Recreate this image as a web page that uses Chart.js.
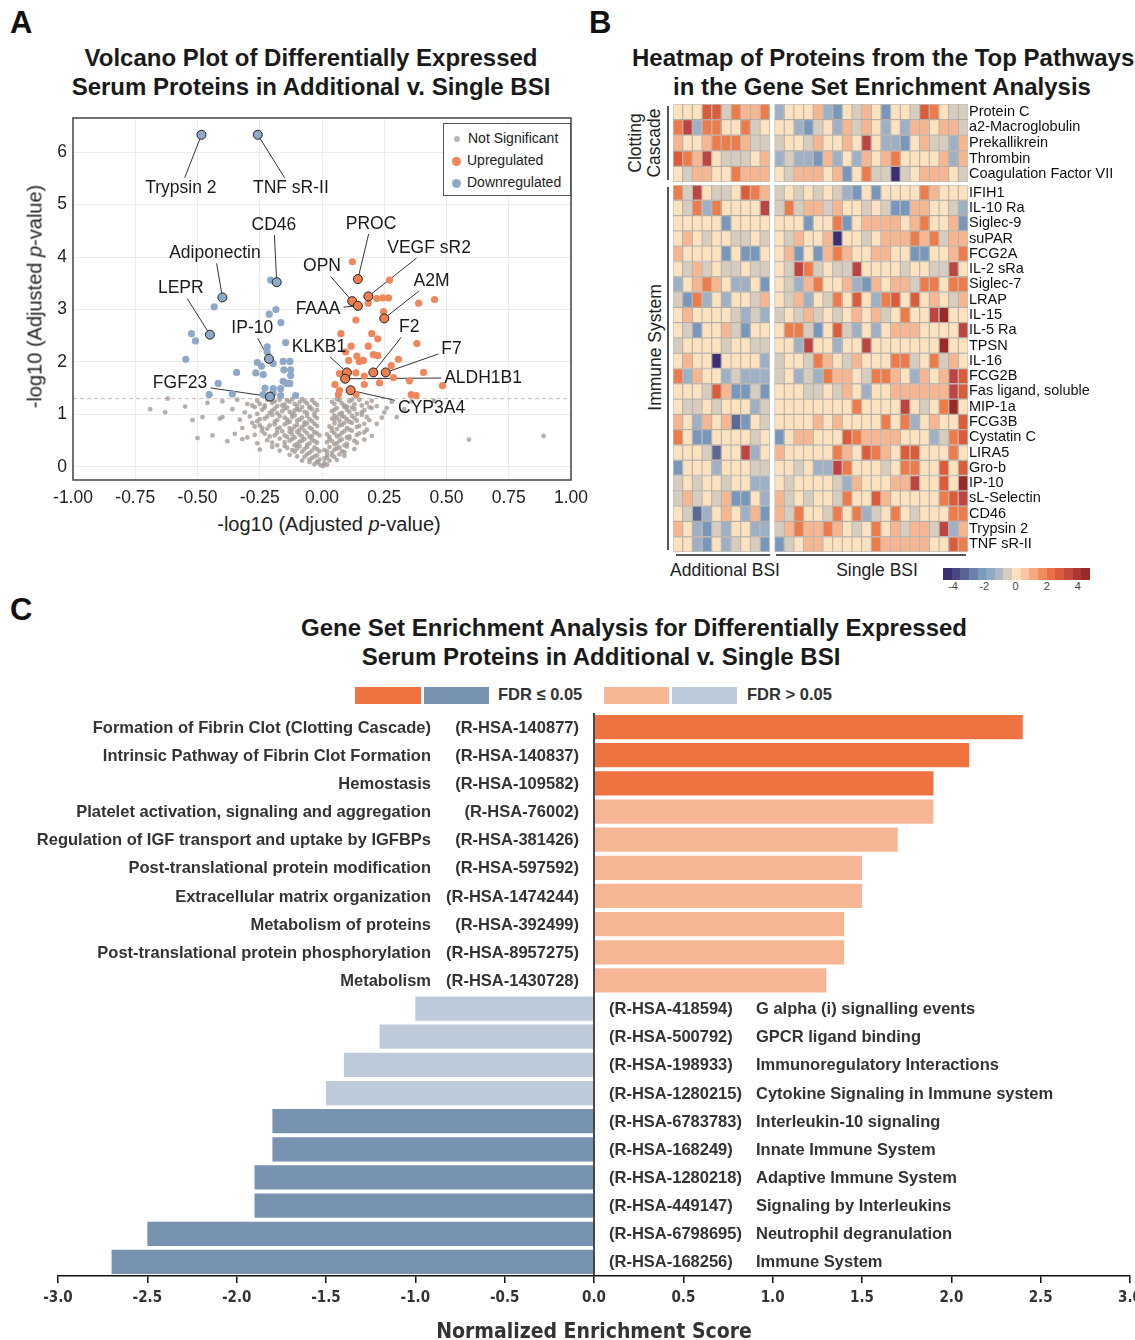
<!DOCTYPE html>
<html>
<head>
<meta charset="utf-8">
<script src="https://cdn.jsdelivr.net/npm/chart.js@4.4.1/dist/chart.umd.min.js"></script>
<style>
  body { margin: 0; background: #fff; font-family: 'Liberation Sans', Arial, sans-serif; color: #111; }
  #page { position: relative; width: 1135px; height: 1340px; overflow: hidden; }
  .abs { position: absolute; }
  canvas { position: absolute; }
  .letter { font-weight: bold; font-size: 31px; }
  .title { font-weight: bold; font-size: 24px; line-height: 29px; text-align: center; color: #1a1a1a; white-space: nowrap; }
  .lgA { font-size: 14px; color: #222; line-height: 22px; }
  .lgA span.dot { display: inline-block; border-radius: 50%; vertical-align: middle; margin-right: 6px; }
  .hmlab { font-size: 17.5px; color: #222; white-space: nowrap; }
  .lgC { font-weight: bold; font-size: 16.5px; color: #333; }
</style>
</head>
<body>
<div id="page">
  <div class="abs letter" style="left:10px;top:5px;">A</div>
  <div class="abs letter" style="left:589px;top:5px;">B</div>
  <div class="abs letter" style="left:10px;top:592px;">C</div>

  <div class="abs title" style="left:11px;top:43px;width:600px;">Volcano Plot of Differentially Expressed<br>Serum Proteins in Additional v. Single BSI</div>
  <div class="abs title" style="left:632px;top:43px;width:500px;">Heatmap of Proteins from the Top Pathways<br>in the Gene Set Enrichment Analysis</div>
  <div class="abs title" style="left:301px;top:613px;width:600px;">Gene Set Enrichment Analysis for Differentially Expressed<br>Serum Proteins in Additional v. Single BSI</div>

  <!-- panel A -->
  <canvas id="volcano" width="590" height="410" style="left:0;top:100px;"></canvas>
  <div class="abs" style="left:129px;top:513px;width:400px;text-align:center;font-size:20px;color:#222;">-log10 (Adjusted <i>p</i>-value)</div>
  <div class="abs" style="left:-165px;top:285px;width:400px;text-align:center;font-size:20px;color:#222;transform:rotate(-90deg);">-log10 (Adjusted <i>p</i>-value)</div>
  <div class="abs lgA" style="left:443px;top:123px;width:128px;height:73px;border:1.5px solid #555;background:#fff;padding:3px 0 0 8px;box-sizing:border-box;">
    <div><span class="dot" style="width:6px;height:6px;background:#bdb5b1;margin-left:2px;margin-right:8px;"></span>Not Significant</div>
    <div><span class="dot" style="width:9px;height:9px;background:#f0875a;"></span>Upregulated</div>
    <div><span class="dot" style="width:9px;height:9px;background:#8ea8c8;"></span>Downregulated</div>
  </div>

  <!-- panel B -->
  <canvas id="heatTop" width="455" height="78" style="left:673px;top:104px;"></canvas>
  <canvas id="heatBottom" width="455" height="367" style="left:673px;top:185px;"></canvas>
  <div class="abs" style="left:667px;top:106px;width:1.5px;height:74px;background:#555;"></div>
  <div class="abs" style="left:667px;top:187px;width:1.5px;height:363px;background:#555;"></div>
  <div class="abs hmlab" style="left:595px;top:124px;width:100px;text-align:center;line-height:19px;transform:rotate(-90deg);">Clotting<br>Cascade</div>
  <div class="abs hmlab" style="left:555px;top:337px;width:200px;text-align:center;transform:rotate(-90deg);">Immune System</div>
  <div class="abs" style="left:676px;top:554px;width:94px;height:1.5px;background:#555;"></div>
  <div class="abs" style="left:776px;top:554px;width:190px;height:1.5px;background:#555;"></div>
  <div class="abs hmlab" style="left:655px;top:560px;width:140px;text-align:center;">Additional BSI</div>
  <div class="abs hmlab" style="left:807px;top:560px;width:140px;text-align:center;">Single BSI</div>
  <div class="abs" id="colorbar" style="left:943px;top:568px;width:147px;height:12px;display:flex;"></div>
  <div class="abs" id="colorticks" style="left:0;top:580px;font-size:11px;color:#444;"></div>

  <!-- panel C -->
  <div class="abs" style="left:355px;top:687px;width:66px;height:17px;background:#ee7340;"></div>
  <div class="abs" style="left:424px;top:687px;width:65px;height:17px;background:#7893b0;"></div>
  <div class="abs lgC" style="left:498px;top:685px;">FDR ≤ 0.05</div>
  <div class="abs" style="left:604px;top:687px;width:65px;height:17px;background:#f6b594;"></div>
  <div class="abs" style="left:672px;top:687px;width:65px;height:17px;background:#bccad9;"></div>
  <div class="abs lgC" style="left:747px;top:685px;">FDR &gt; 0.05</div>
  <canvas id="gsea" width="1135" height="644" style="left:0;top:705px;"></canvas>
</div>

<script>
// ---------------- panel A data ----------------
const volcanoXTicks = [-1, -0.75, -0.5, -0.25, 0, 0.25, 0.5, 0.75, 1];
const volcanoYTicks = [0, 1, 2, 3, 4, 5, 6];
const pThreshold = 1.301;

const notSigPoints = [
  [-0.02,1.18],[-0.04,1.27],[-0.06,1.21],[-0.08,1.29],[-0.1,1.16],[-0.13,1.24],[-0.15,1.19],[-0.17,1.28],[-0.2,1.22],
  [-0.23,1.17],[-0.26,1.26],[-0.3,1.2],[-0.34,1.28],[-0.05,1.15],[-0.09,1.23],[-0.12,1.29],[-0.18,1.16],
  [-0.02,1.08],[-0.03,1.02],[-0.05,1.12],[-0.07,1.05],[-0.1,1.1],[-0.12,1.01],[-0.14,1.13],[-0.16,1.06],[-0.19,1.11],
  [-0.21,1.03],[-0.24,1.09],[-0.27,1.14],[-0.31,1.04],[-0.36,1.1],[-0.08,1.14],[-0.11,1.07],
  [-0.02,0.93],[-0.04,0.87],[-0.06,0.97],[-0.09,0.9],[-0.11,0.98],[-0.13,0.86],[-0.15,0.94],[-0.18,0.89],[-0.2,0.99],
  [-0.23,0.92],[-0.26,0.87],[-0.29,0.96],[-0.33,0.9],[-0.4,0.95],[-0.07,0.85],
  [-0.02,0.78],[-0.04,0.72],[-0.06,0.83],[-0.08,0.76],[-0.1,0.8],[-0.12,0.71],[-0.14,0.84],[-0.17,0.75],[-0.19,0.81],
  [-0.22,0.73],[-0.25,0.79],[-0.28,0.84],[-0.32,0.74],[-0.09,0.71],
  [-0.01,0.6],[-0.03,0.66],[-0.05,0.57],[-0.07,0.69],[-0.09,0.62],[-0.11,0.56],[-0.13,0.67],[-0.15,0.6],[-0.18,0.65],
  [-0.21,0.58],[-0.24,0.68],[-0.27,0.61],[-0.3,0.56],[-0.35,0.63],
  [-0.02,0.46],[-0.04,0.52],[-0.06,0.42],[-0.08,0.5],[-0.1,0.44],[-0.12,0.53],[-0.15,0.47],[-0.18,0.41],[-0.22,0.51],
  [-0.26,0.45],[-0.32,0.53],[-0.38,0.49],
  [-0.01,0.3],[-0.03,0.37],[-0.05,0.27],[-0.07,0.34],[-0.09,0.39],[-0.11,0.29],[-0.14,0.36],[-0.17,0.31],[-0.2,0.38],[-0.25,0.33],
  [-0.01,0.14],[-0.02,0.22],[-0.04,0.17],[-0.06,0.24],[-0.08,0.12],[-0.1,0.2],[-0.13,0.23],
  [-0.005,0.03],[-0.015,0.08],[-0.03,0.05],[-0.05,0.09],
  [-0.03,1.22],[-0.07,1.25],[-0.11,1.2],[-0.14,1.27],[-0.16,1.17],[-0.19,1.25],[-0.22,1.28],[-0.25,1.2],[-0.28,1.17],
  [-0.04,1.1],[-0.06,1.03],[-0.09,1.08],[-0.13,1.05],[-0.15,1.11],[-0.18,1.02],[-0.2,1.07],[-0.23,1.13],[-0.26,1.01],
  [-0.03,0.97],[-0.05,0.91],[-0.08,0.94],[-0.1,0.88],[-0.12,0.95],[-0.14,0.9],[-0.17,0.97],[-0.19,0.86],[-0.22,0.96],[-0.25,0.91],
  [-0.03,0.82],[-0.05,0.75],[-0.07,0.8],[-0.11,0.77],[-0.13,0.74],[-0.15,0.81],[-0.18,0.72],[-0.21,0.79],[-0.24,0.74],[-0.27,0.77],
  [-0.02,0.64],[-0.04,0.59],[-0.06,0.64],[-0.08,0.58],[-0.1,0.67],[-0.12,0.62],[-0.14,0.57],[-0.16,0.68],[-0.19,0.6],[-0.23,0.63],
  [-0.03,0.49],[-0.05,0.45],[-0.07,0.53],[-0.09,0.48],[-0.11,0.41],[-0.13,0.5],[-0.17,0.54],[-0.2,0.46],
  [-0.02,0.34],[-0.04,0.31],[-0.06,0.38],[-0.08,0.29],[-0.1,0.35],[-0.12,0.32],[-0.15,0.4],
  [-0.03,0.2],[-0.05,0.14],[-0.07,0.19],[-0.02,0.1],
  [0.05,1.2],[0.07,1.27],[0.09,1.17],[0.11,1.25],[0.13,1.19],[0.15,1.28],[0.18,1.22],[0.22,1.16],[0.28,1.24],[0.06,1.29],[0.1,1.15],
  [0.04,1.06],[0.06,1.12],[0.08,1.03],[0.1,1.09],[0.12,1.13],[0.14,1.01],[0.17,1.08],[0.2,1.12],[0.25,1.04],[0.09,1.14],
  [0.04,0.92],[0.05,0.98],[0.07,0.88],[0.09,0.95],[0.11,0.86],[0.13,0.93],[0.16,0.99],[0.19,0.89],[0.24,0.94],[0.08,0.97],
  [0.03,0.77],[0.05,0.83],[0.06,0.72],[0.08,0.8],[0.1,0.74],[0.12,0.84],[0.15,0.78],[0.18,0.71],[0.22,0.82],
  [0.02,0.62],[0.04,0.68],[0.06,0.58],[0.08,0.65],[0.1,0.56],[0.12,0.69],[0.14,0.61],[0.17,0.66],[0.2,0.59],
  [0.02,0.47],[0.03,0.53],[0.05,0.43],[0.07,0.5],[0.09,0.41],[0.11,0.54],[0.14,0.46],[0.17,0.52],
  [0.01,0.32],[0.03,0.38],[0.04,0.27],[0.06,0.35],[0.08,0.3],[0.1,0.39],[0.13,0.34],
  [0.01,0.16],[0.02,0.23],[0.03,0.12],[0.05,0.19],[0.07,0.24],[0.09,0.21],
  [0.005,0.02],[0.01,0.07],[0.02,0.04],
  [0.04,1.24],[0.08,1.21],[0.12,1.28],[0.16,1.17],[0.2,1.26],
  [0.05,1.09],[0.07,1.01],[0.11,1.05],[0.13,1.1],[0.16,1.04],[0.19,1.14],
  [0.05,0.9],[0.06,0.94],[0.1,0.91],[0.12,0.97],[0.14,0.88],[0.18,0.95],
  [0.04,0.74],[0.07,0.79],[0.09,0.84],[0.11,0.71],[0.14,0.76],[0.17,0.82],
  [0.03,0.57],[0.05,0.64],[0.07,0.6],[0.09,0.68],[0.11,0.58],[0.15,0.64],
  [0.04,0.49],[0.06,0.45],[0.08,0.52],[0.1,0.44],[0.13,0.5],
  [0.02,0.3],[0.05,0.33],[0.07,0.37],[0.09,0.28],
  [0.02,0.18],[0.04,0.22],[0.06,0.13],
  [-0.69,1.1],[-0.63,1.04],[-0.52,0.89],[-0.48,0.95],[-0.41,0.92],[-0.62,1.3],[-0.46,1.22],[-0.55,1.15],[0.59,0.52],
  [0.89,0.59],[0.45,1.26],[0.33,1.1],[0.26,1.12],[0.3,0.95],[-0.44,0.6],[-0.5,0.55],[0.36,1.25],[-0.4,1.25]
];

const downPoints = [
  [-0.433,3.05],[-0.206,3.56],[-0.185,3.0],[-0.212,2.91],[-0.165,2.75],[-0.524,2.54],[-0.508,2.4],[-0.547,2.05],
  [-0.146,2.37],[-0.22,2.29],[-0.22,2.19],[-0.26,1.99],[-0.243,1.92],[-0.196,1.97],[-0.156,2.01],[-0.129,2.01],
  [-0.153,1.85],[-0.126,1.85],[-0.343,1.8],[-0.266,1.79],[-0.236,1.76],[-0.126,1.74],[-0.156,1.63],[-0.142,1.59],
  [-0.129,1.59],[-0.229,1.5],[-0.196,1.49],[-0.166,1.49],[-0.417,1.59],[-0.453,1.38],[-0.36,1.39],[-0.236,1.38],
  [-0.166,1.36],[-0.106,1.36],[-0.196,1.41]
];

const upPoints = [
  [0.122,3.91],[0.271,3.56],[0.22,3.21],[0.244,3.22],[0.267,3.22],[0.186,3.12],[0.388,3.12],[0.452,3.19],
  [0.247,2.96],[0.136,2.8],[0.076,2.54],[0.2,2.54],[0.224,2.44],[0.117,2.3],[0.186,2.3],[0.381,2.35],
  [0.206,2.14],[0.224,2.12],[0.095,2.19],[0.14,2.11],[0.15,2.01],[0.166,2.03],[0.107,2.03],[0.307,2.05],
  [0.278,1.93],[0.408,1.8],[0.07,1.78],[0.136,1.79],[0.17,1.73],[0.287,1.7],[0.052,1.57],[0.17,1.57],
  [0.231,1.6],[0.351,1.64],[0.484,1.55],[0.07,1.46],[0.137,1.38],[0.066,1.38],[0.358,1.38],[0.378,1.36]
];

const labeledNames = ['Trypsin 2','TNF sR-II','CD46','Adiponectin','LEPR','IP-10','FGF23',
  'PROC','VEGF sR2','OPN','FAAA','A2M','F2','F7','KLKB1','ALDH1B1','CYP3A4'];
const labeledX = [-0.484,-0.258,-0.182,-0.40,-0.45,-0.213,-0.209, 0.144,0.186,0.121,0.144,0.25,0.206,0.256,0.10,0.093,0.115];
const labeledY = [6.33,6.33,3.52,3.23,2.52,2.06,1.34, 3.58,3.25,3.16,3.07,2.83,1.80,1.80,1.80,1.68,1.46];
const labeledUp = [0,0,0,0,0,0,0, 1,1,1,1,1,1,1,1,1,1];
const labelTextX = [-0.567,-0.125,-0.193,-0.43,-0.567,-0.28,-0.57, 0.197,0.43,0.0,-0.016,0.44,0.35,0.52,-0.012,0.647,0.44];
const labelTextY = [5.32,5.32,4.61,4.07,3.40,2.64,1.59, 4.63,4.17,3.82,3.0,3.54,2.66,2.24,2.29,1.70,1.11];

// ---------------- panel B data ----------------
const clottingProteins = ['Protein C','a2-Macroglobulin','Prekallikrein','Thrombin','Coagulation Factor VII'];
const immuneProteins = ['IFIH1','IL-10 Ra','Siglec-9','suPAR','FCG2A','IL-2 sRa','Siglec-7','LRAP','IL-15','IL-5 Ra',
  'TPSN','IL-16','FCG2B','Fas ligand, soluble','MIP-1a','FCG3B','Cystatin C','LIRA5','Gro-b','IP-10','sL-Selectin',
  'CD46','Trypsin 2','TNF sR-II'];
const additionalCount = 10;   // first 10 columns: Additional BSI, next 20: Single BSI
const colorbarTicks = [-4, -2, 0, 2, 4];

const clottingZ = [
  [0,0,0,2.8,2.8,-0.5,2,0.9,0.9,2, -1.3,0,0,0,0.9,-1.3,-2.2,0,-0.5,0.9, 0,-2.2,0,0,-0.5,2.8,2,0,-0.5,-0.5],
  [2,3.5,-1.3,2,2,0,0,2,-0.5,0, 0,0,-1.3,-2.2,-0.5,0,-1.3,0.9,-0.5,0.9, 0,-1.3,0,-1.3,0.9,0.9,0,0.9,0.9,-0.5],
  [0.9,0,0,0.9,2,2,2,0.9,-0.5,-0.5, -0.5,0,0,-0.5,0.9,0,0,0.9,0,3.5, 0,-1.3,-1.3,-2.2,0,0.9,-0.5,-0.5,-1.3,0.9],
  [2.8,2,0.9,3.5,0,-0.5,-0.5,-0.5,0,0.9, -1.3,-0.5,-1.3,-1.3,-2.2,0.9,-1.3,0,-1.3,0.9, 0,0.9,2,0,0,0,0,0.9,-1.3,0.9],
  [0,-0.5,0.9,0.9,0,0,2,0.9,0.9,0.9, 0,-0.5,0.9,0.9,0.9,0,0.9,-2.2,0,2, -0.5,-0.5,-4.3,-0.5,0,0.9,0.9,0.9,0,-0.5]
];
const immuneZ = [
  [2,-0.5,3.5,0,-0.5,-0.5,0,2.8,2,0.9, -0.5,0,-0.5,0,-0.5,0,-0.5,-1.3,-2.2,0, -2.2,0,0,0,0,2,0.9,0,0,0],
  [0,-0.5,2,-1.3,2,0,0,0,0,3.5, -0.5,2,-0.5,0.9,0.9,-0.5,0.9,0,0,-0.5, 0,-0.5,-2.2,-2.2,0.9,0.9,0,0,-0.5,-1.3],
  [0,0,0,0,0,-2.2,0,0,0,0, 0,0,0,-2.2,0,0,2,-2.2,0,0.9, 0.9,0.9,0.9,0,0.9,2,0,0,0.9,-2.2],
  [0,0.9,0,-0.5,0,0,-0.5,-0.5,0,-0.5, 0,-0.5,0.9,0,0,0.9,-4.3,0,0,-0.5, 0,0.9,0.9,0.9,2,0.9,2,-0.5,0.9,0.9],
  [0.9,0,0,0,0,-2.2,0,-2.2,-2.2,0, 0,0.9,-2.2,0,-2.2,0.9,2,0.9,0,0, 0.9,0.9,0,0,-2.2,-2.2,0,0,0.9,2],
  [0,-0.5,0.9,-0.5,0,-0.5,-0.5,0,-0.5,-0.5, 0,-0.5,3.5,2,-0.5,0,-0.5,-0.5,3.5,0, 0,0,0,-0.5,0,0,-0.5,-0.5,3.5,0],
  [-1.3,0,0.9,2,0.9,0,-1.3,-1.3,0,-2.2, 0,-0.5,-1.3,0.9,2,0,0,0.9,-1.3,-2.2, 0.9,0,0.9,0.9,-0.5,2,2,0,2,2],
  [-0.5,-2.2,2,-1.3,0,-1.3,0,0,-0.5,0.9, 0,-0.5,0.9,-1.3,0,-0.5,2,0,2.8,0, -1.3,2,2.8,0,2.8,0,0.9,0,-0.5,0.9],
  [0,0.9,0,0,0,0,-0.5,-1.3,-0.5,-1.3, -0.5,0,-0.5,0.9,-0.5,0,-0.5,0,0.9,0, 0.9,-0.5,0,2,0,0,3.5,4.4,0,0],
  [0,-0.5,-2.2,0,0,0.9,-0.5,-2.2,0,0, 0,2,2,-0.5,-2.2,0,2.8,-0.5,-1.3,0, -1.3,0,0.9,0.9,0.9,0,0,0,0,3.5],
  [-0.5,0,0,0,0,-0.5,0,0,-0.5,-0.5, 0,0,-1.3,3.5,0,0,-1.3,0,0,3.5, 0,0,0,0,0,0,0,4.4,0,0],
  [0,0.9,0,0,-4.3,0,0,0,0,-1.3, -0.5,0,0,-0.5,2,0.9,0,-0.5,0.9,0, 0,0,2,2,-0.5,0,2,-0.5,0.9,0],
  [2,-1.3,0.9,0,0,-1.3,-0.5,-1.3,-1.3,-1.3, -0.5,0,-1.3,-0.5,-1.3,2,0.9,0.9,0,-0.5, 2,2,0.9,0,-1.3,0.9,0,0.9,3.5,2.8],
  [0,0,0,-0.5,2.8,0.9,-2.2,-2.2,-0.5,-2.2, 0,0,0,-0.5,-0.5,0,-0.5,0.9,0,-1.3, 0,0,0.9,0.9,0.9,0.9,0.9,0.9,3.5,2.8],
  [0,-0.5,-0.5,0,-0.5,0,0,0,-1.3,-0.5, 0,0,0,0,0,0,0,0,2,0, 0,0,0,3.5,0,-0.5,0,2,4.4,0],
  [0.9,0,-1.3,0.9,0,0.9,-3.2,-2.2,0,-0.5, 0,0,0,0,0.9,0,0.9,0,0,0, 0,2,0,2,-1.3,0,0.9,0,0,2.8],
  [2,0,-2.2,-2.2,0,0,0,0,-0.5,0, -2.2,0,0.9,0.9,0,0,0,2.8,2,0.9, 0.9,0.9,0.9,0,0,0,-1.3,-0.5,2,2.8],
  [0,0,0,-0.5,-3.2,0,0,3.5,-1.3,0, 0.9,0,0,0,0,0,2,0.9,0,2.8, 2,0.9,0,2.8,2.8,0,0,0,2,0],
  [-2.2,0,0,0,-1.3,0,0,0,-0.5,-0.5, 0,0,-0.5,0,-1.3,-1.3,3.5,2,0,0, 0,-0.5,0,2,2,0,0,2.8,0,2.8],
  [-0.5,0,-0.5,0,0,-0.5,0,0,-1.3,-1.3, 0,-0.5,0,0,0,0,-0.5,-1.3,0.9,0, 0,0,0.9,0.9,3.5,0,0,2.8,0,4.4],
  [-0.5,0.9,-0.5,0,-0.5,0.9,-2.2,-2.2,0,-1.3, 0.9,-0.5,0,-0.5,0,0,-0.5,2,0,0, 2.8,0.9,0,0,0,0,0,2,2.8,3.5],
  [0,-0.5,-3.2,-1.3,0,0.9,0,-1.3,0.9,-2.2, 0.9,-0.5,2,0,0,-0.5,2,0,2,-1.3, -0.5,0,2,0,-0.5,0,0,0,2,2],
  [0.9,0,-1.3,-2.2,-0.5,-1.3,0,0,-1.3,-1.3, -0.5,0.9,2,0.9,0.9,2,0.9,0,-0.5,0, 2,0,0.9,-0.5,0.9,0.9,-0.5,3.5,-1.3,0.9],
  [0,0,-1.3,-2.2,0,-1.3,-0.5,0,-0.5,-2.2, -2.2,-0.5,0,0.9,0.9,0,0,0,0,0, 2,0.9,0.9,0.9,0.9,0.9,0,0,2.8,2]
];

// ---------------- panel C data ----------------
const pathwayNames = ['Formation of Fibrin Clot (Clotting Cascade)','Intrinsic Pathway of Fibrin Clot Formation','Hemostasis',
  'Platelet activation, signaling and aggregation','Regulation of IGF transport and uptake by IGFBPs',
  'Post-translational protein modification','Extracellular matrix organization','Metabolism of proteins',
  'Post-translational protein phosphorylation','Metabolism','G alpha (i) signalling events','GPCR ligand binding',
  'Immunoregulatory Interactions','Cytokine Signaling in Immune system','Interleukin-10 signaling','Innate Immune System',
  'Adaptive Immune System','Signaling by Interleukins','Neutrophil degranulation','Immune System'];
const pathwayIds = ['R-HSA-140877','R-HSA-140837','R-HSA-109582','R-HSA-76002','R-HSA-381426','R-HSA-597592',
  'R-HSA-1474244','R-HSA-392499','R-HSA-8957275','R-HSA-1430728','R-HSA-418594','R-HSA-500792','R-HSA-198933',
  'R-HSA-1280215','R-HSA-6783783','R-HSA-168249','R-HSA-1280218','R-HSA-449147','R-HSA-6798695','R-HSA-168256'];
const nesScores = [2.4,2.1,1.9,1.9,1.7,1.5,1.5,1.4,1.4,1.3,-1.0,-1.2,-1.4,-1.5,-1.8,-1.8,-1.9,-1.9,-2.5,-2.7];
const fdrPass = [1,1,1,0,0,0,0,0,0,0, 0,0,0,0,1,1,1,1,1,1];
const nesTicks = [-3,-2.5,-2,-1.5,-1,-0.5,0,0.5,1,1.5,2,2.5,3];

const FONT = "'Liberation Sans', Arial, sans-serif";
const NARROW = "'Liberation Sans Narrow', 'Arial Narrow', 'DejaVu Sans Condensed', sans-serif";

// ---------------- panel A ----------------
const volcanoDecor = {
  id: 'volcanoDecor',
  beforeDatasetsDraw(chart) {
    const {ctx, chartArea: a, scales: {x, y}} = chart;
    ctx.save();
    ctx.strokeStyle = '#c9bcb8';
    ctx.lineWidth = 1;
    ctx.setLineDash([4, 3]);
    const yy = y.getPixelForValue(pThreshold);
    ctx.beginPath(); ctx.moveTo(a.left, yy); ctx.lineTo(a.right, yy); ctx.stroke();
    ctx.setLineDash([]);
    // leader lines
    ctx.font = '17.5px ' + FONT;
    ctx.strokeStyle = '#333';
    labeledNames.forEach((name, i) => {
      const px = x.getPixelForValue(labeledX[i]), py = y.getPixelForValue(labeledY[i]);
      const cx = x.getPixelForValue(labelTextX[i]), cy = y.getPixelForValue(labelTextY[i]);
      const hw = ctx.measureText(name).width / 2 + 3, hh = 10;
      const dx = px - cx, dy = py - cy;
      const s = Math.min(dx ? hw / Math.abs(dx) : 99, dy ? hh / Math.abs(dy) : 99);
      if (s >= 1) return;
      ctx.beginPath(); ctx.moveTo(px, py); ctx.lineTo(cx + s * dx, cy + s * dy); ctx.stroke();
    });
    ctx.restore();
  },
  afterDraw(chart) {
    const {ctx, chartArea: a, scales: {x, y}} = chart;
    ctx.save();
    ctx.strokeStyle = '#444';
    ctx.lineWidth = 1.5;
    ctx.strokeRect(a.left, a.top, a.right - a.left, a.bottom - a.top);
    ctx.font = '17.5px ' + FONT;
    ctx.fillStyle = '#1a1a1a';
    ctx.textAlign = 'center';
    ctx.textBaseline = 'middle';
    labeledNames.forEach((name, i) => {
      ctx.fillText(name, x.getPixelForValue(labelTextX[i]), y.getPixelForValue(labelTextY[i]));
    });
    ctx.restore();
  }
};

const toXY = arr => arr.map(p => ({x: p[0], y: p[1]}));

new Chart(document.getElementById('volcano'), {
  type: 'scatter',
  data: {
    datasets: [
      {
        data: labeledX.map((v, i) => ({x: v, y: labeledY[i]})),
        backgroundColor: labeledUp.map(u => u ? '#ee7d4f' : '#8ea8c8'),
        borderColor: '#222', borderWidth: 1, pointRadius: 4.5
      },
      {data: toXY(upPoints), backgroundColor: '#f0875a', borderWidth: 0, pointRadius: 3.6},
      {data: toXY(downPoints), backgroundColor: '#8ea8c8', borderWidth: 0, pointRadius: 3.6},
      {data: toXY(notSigPoints), backgroundColor: 'rgba(165,155,150,0.8)', borderWidth: 0, pointRadius: 2.4}
    ]
  },
  options: {
    responsive: false,
    animation: false,
    layout: {padding: {top: 18, right: 19, left: 0, bottom: 0}},
    plugins: {legend: {display: false}, tooltip: {enabled: false}},
    scales: {
      x: {
        min: -1, max: 1,
        afterBuildTicks: s => { s.ticks = volcanoXTicks.map(v => ({value: v})); },
        afterFit: s => { s.height = 30; s.paddingLeft = 0; s.paddingRight = 0; },
        grid: {color: '#ececec', drawTicks: false},
        border: {display: false},
        ticks: {callback: v => v.toFixed(2), font: {family: FONT, size: 17.5}, color: '#222', padding: 8, maxRotation: 0}
      },
      y: {
        min: -0.25, max: 6.65,
        afterBuildTicks: s => { s.ticks = volcanoYTicks.map(v => ({value: v})); },
        afterFit: s => { s.width = 73; s.paddingTop = 0; s.paddingBottom = 0; },
        grid: {color: '#ececec', drawTicks: false},
        border: {display: false},
        ticks: {font: {family: FONT, size: 17.5}, color: '#222', padding: 6}
      }
    }
  },
  plugins: [volcanoDecor]
});

// ---------------- panel B ----------------
const colorStops = [
  [-4.3, [59, 46, 114]], [-3.1, [95, 109, 152]], [-2.1, [123, 156, 192]], [-1.2, [162, 179, 199]],
  [-0.5, [214, 205, 191]], [0, [253, 226, 191]], [0.9, [248, 182, 144]], [2, [238, 124, 75]],
  [2.8, [220, 92, 58]], [3.5, [189, 68, 64]], [4.4, [153, 42, 39]]
];
function heatColor(v) {
  if (v <= colorStops[0][0]) return 'rgb(' + colorStops[0][1].join(',') + ')';
  for (let i = 1; i < colorStops.length; i++) {
    if (v <= colorStops[i][0]) {
      const [v0, c0] = colorStops[i - 1], [v1, c1] = colorStops[i];
      const t = (v - v0) / (v1 - v0);
      return 'rgb(' + c0.map((c, k) => Math.round(c + t * (c1[k] - c))).join(',') + ')';
    }
  }
  return 'rgb(' + colorStops[colorStops.length - 1][1].join(',') + ')';
}

function heatmap(canvasId, labels, z) {
  const nCols = z[0].length;
  const datasets = [];
  for (let j = 0; j < nCols; j++) {
    if (j === additionalCount) {
      datasets.push({data: labels.map(() => 0.5), backgroundColor: 'rgba(0,0,0,0)', borderWidth: 0});
    }
    datasets.push({
      data: labels.map(() => 1),
      backgroundColor: z.map(row => heatColor(row[j])),
      borderColor: 'rgba(150,138,128,0.55)',
      borderWidth: 1,
      borderSkipped: false
    });
  }
  new Chart(document.getElementById(canvasId), {
    type: 'bar',
    data: {labels: labels, datasets: datasets},
    options: {
      indexAxis: 'y',
      responsive: false,
      animation: false,
      layout: {padding: 0},
      datasets: {bar: {categoryPercentage: 1, barPercentage: 1}},
      plugins: {legend: {display: false}, tooltip: {enabled: false}},
      scales: {
        x: {stacked: true, display: false, min: 0, max: nCols + 0.5},
        y: {
          stacked: true, position: 'right',
          afterFit: s => { s.width = 160; s.paddingTop = 0; s.paddingBottom = 0; },
          grid: {display: false, drawTicks: false, tickLength: 0}, border: {display: false},
          ticks: {font: {family: FONT, size: 14.5, lineHeight: 1}, color: '#111', padding: 1, autoSkip: false}
        }
      }
    }
  });
}
heatmap('heatTop', clottingProteins, clottingZ);
heatmap('heatBottom', immuneProteins, immuneZ);

// colour bar
const cb = document.getElementById('colorbar');
for (let i = 0; i < 17; i++) {
  const s = document.createElement('div');
  s.style.flex = '1';
  s.style.background = heatColor(-4.35 + i * 0.55);
  cb.appendChild(s);
}
const ct = document.getElementById('colorticks');
colorbarTicks.forEach(t => {
  const d = document.createElement('div');
  d.className = 'abs';
  d.style.left = (1015.5 + t * 15.6 - 10) + 'px';
  d.style.width = '20px';
  d.style.textAlign = 'center';
  d.textContent = t;
  ct.appendChild(d);
});

// ---------------- panel C ----------------
const gseaLabels = {
  id: 'gseaLabels',
  afterDraw(chart) {
    const {ctx, chartArea: a, scales: {x, y}} = chart;
    const x0 = x.getPixelForValue(0);
    ctx.save();
    ctx.strokeStyle = '#111';
    ctx.lineWidth = 1.5;
    ctx.beginPath(); ctx.moveTo(x0, a.top); ctx.lineTo(x0, a.bottom); ctx.stroke();
    ctx.font = 'bold 16.5px ' + FONT;
    ctx.fillStyle = '#333';
    ctx.textBaseline = 'middle';
    nesScores.forEach((v, i) => {
      const yy = y.getPixelForValue(i) + 1;
      const id = '(' + pathwayIds[i] + ')';
      if (v > 0) {
        ctx.textAlign = 'right';
        ctx.fillText(id, x0 - 15, yy);
        ctx.fillText(pathwayNames[i], x0 - 163, yy);
      } else {
        ctx.textAlign = 'left';
        ctx.fillText(id, x0 + 15, yy);
        ctx.fillText(pathwayNames[i], x0 + 162, yy);
      }
    });
    ctx.restore();
  }
};

new Chart(document.getElementById('gsea'), {
  type: 'bar',
  data: {
    labels: pathwayNames,
    datasets: [{
      data: nesScores,
      backgroundColor: nesScores.map((v, i) => v > 0 ? (fdrPass[i] ? '#ee7340' : '#f6b594') : (fdrPass[i] ? '#7893b0' : '#bccad9')),
      borderWidth: 0,
      barPercentage: 0.86,
      categoryPercentage: 1
    }]
  },
  options: {
    indexAxis: 'y',
    responsive: false,
    animation: false,
    layout: {padding: {left: 58, right: 5, top: 8, bottom: 0}},
    plugins: {legend: {display: false}, tooltip: {enabled: false}},
    scales: {
      y: {display: false},
      x: {
        min: -3, max: 3,
        afterBuildTicks: s => { s.ticks = nesTicks.map(v => ({value: v})); },
        afterFit: s => { s.height = 73; s.paddingLeft = 0; s.paddingRight = 0; },
        grid: {drawOnChartArea: false, drawTicks: true, tickLength: 7, color: '#111', lineWidth: 1.5},
        border: {display: true, color: '#111', width: 1.5},
        ticks: {callback: v => v.toFixed(1), font: {family: NARROW, size: 15, weight: 'bold'}, color: '#333', padding: 6, maxRotation: 0},
        title: {display: true, text: 'Normalized Enrichment Score', font: {family: NARROW, size: 21, weight: 'bold'}, color: '#333', padding: {top: 16}}
      }
    }
  },
  plugins: [gseaLabels]
});
</script>
</body>
</html>
